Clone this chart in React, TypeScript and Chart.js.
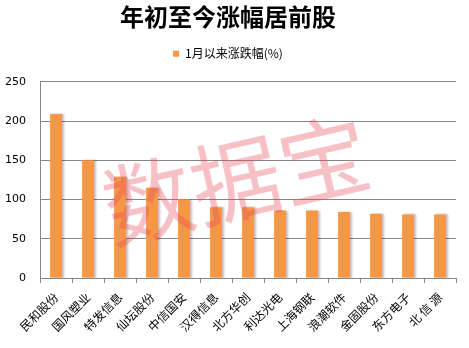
import React, { useEffect, useRef } from "react";
import { Chart, registerables } from "chart.js";

Chart.register(...registerables);

const categories = ["民和股份", "国风塑业", "特发信息", "仙坛股份", "中信国安", "汉得信息", "北方华创", "利达光电", "上海钢联", "浪潮软件", "金固股份", "东方电子", "北 信 源"];
const values = [209, 150, 129, 115, 100, 90, 90, 86, 86, 84, 82, 81, 81];
const yTicks = [0, 50, 100, 150, 200, 250];
const seriesName = "1月以来涨跌幅(%)";
const titleText = "年初至今涨幅居前股";
const watermarkText = "数据宝";

const watermark = {
  id: "watermark",
  afterDatasetsDraw(chart: any) {
    const ctx = chart.ctx;
    ctx.save();
    ctx.translate(236, 180);
    ctx.rotate(-13 * Math.PI / 180);
    ctx.font = "90px 'Noto Sans CJK SC'";
    ctx.fillStyle = "rgba(230, 70, 85, 0.34)";
    ctx.textAlign = "center";
    ctx.textBaseline = "middle";
    ctx.fillText(watermarkText, 0, 0);
    ctx.restore();
  },
};

const barShadow = {
  id: "barShadow",
  beforeDatasetsDraw(chart: any) {
    const ctx = chart.ctx;
    ctx.save();
    ctx.shadowColor = "rgba(0,0,0,0.25)";
    ctx.shadowOffsetX = 2;
    ctx.shadowOffsetY = 0;
    ctx.shadowBlur = 2;
  },
  afterDatasetsDraw(chart: any) {
    chart.ctx.restore();
  },
};

const legendMargin = {
  id: "legendMargin",
  beforeInit(chart: any) {
    const orig = chart.legend.fit;
    chart.legend.fit = function () {
      orig.bind(chart.legend)();
      this.height += 12;
    };
  },
};

export default function App() {
  const ref = useRef<HTMLCanvasElement>(null);
  useEffect(() => {
    const chart = new Chart(ref.current!, {
      type: "bar",
      data: {
        labels: categories,
        datasets: [
          {
            label: seriesName,
            data: values,
            backgroundColor: "#F79646",
            barPercentage: 0.37,
            categoryPercentage: 1,
          },
        ],
      },
      options: {
        animation: false,
        responsive: false,
        maintainAspectRatio: false,
        layout: { padding: { left: 0, right: 13, top: 2, bottom: 0 } },
        plugins: {
          title: {
            display: true,
            text: titleText,
            color: "#000",
            font: { family: "'Noto Sans CJK SC'", size: 24, weight: "bold" },
            padding: { top: 0, bottom: 9 },
          },
          legend: {
            display: true,
            labels: {
              boxWidth: 6,
              boxHeight: 6,
              color: "#000",
              font: { family: "'Noto Sans CJK SC'", size: 12 },
              padding: 8,
            },
          },
          tooltip: { enabled: false },
        },
        scales: {
          x: {
            grid: {
              offset: true,
              drawOnChartArea: false,
              drawTicks: true,
              tickLength: 5,
              color: "#868686",
            },
            border: { color: "#868686" },
            ticks: {
              color: "#000",
              font: { family: "'Noto Sans CJK SC'", size: 12 },
              maxRotation: 45,
              minRotation: 45,
              autoSkip: false,
              padding: 7,
            },
            afterFit(axis: any) {
              axis.height = 70;
            },
          },
          y: {
            min: 0,
            max: 250,
            afterBuildTicks(axis: any) {
              axis.ticks = yTicks.map((v) => ({ value: v }));
            },
            grid: { color: "#868686", drawTicks: false },
            border: { color: "#868686" },
            ticks: {
              color: "#000",
              font: { family: "'DejaVu Sans'", size: 11 },
              padding: 14,
            },
            afterFit(axis: any) {
              axis.width = 40;
            },
          },
        },
      },
      plugins: [legendMargin, barShadow, watermark],
    });
    return () => chart.destroy();
  }, []);
  return (
    <div style={{ position: "fixed", left: 0, top: 0, width: 469, height: 348, background: "#fff" }}>
      <canvas ref={ref} width={469} height={348} style={{ width: 469, height: 348 }} />
    </div>
  );
}
